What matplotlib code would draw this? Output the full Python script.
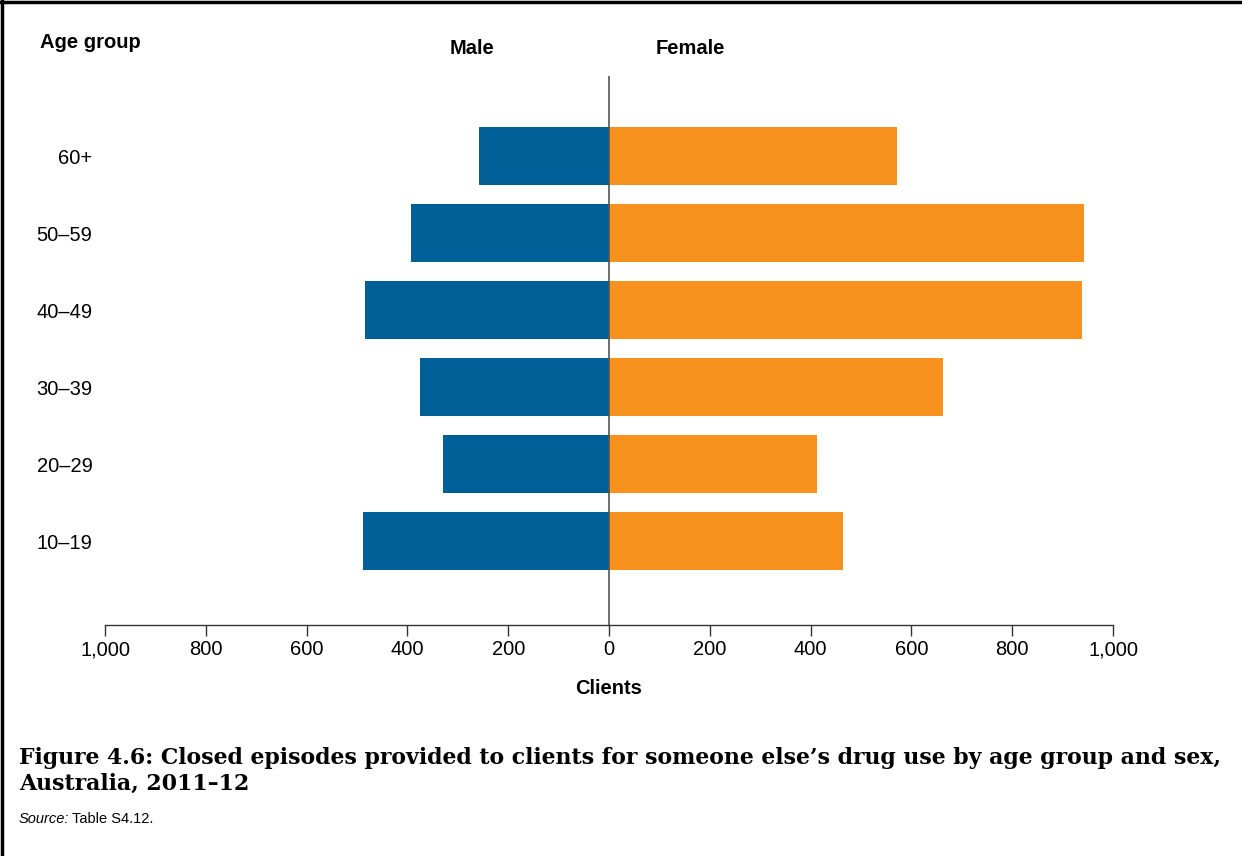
import numpy as np
import matplotlib.pyplot as plt
from matplotlib.lines import Line2D
from matplotlib.ticker import FuncFormatter

plt.rcParams['font.family'] = ['Liberation Sans', 'DejaVu Sans']

age_groups = ["10–19", "20–29", "30–39", "40–49", "50–59", "60+"]
male = [488, 329, 375, 484, 393, 258]
female = [464, 413, 663, 938, 942, 571]

male_col = "#005f96"
female_col = "#f7921e"

W, H = 1242, 856
fig = plt.figure(figsize=(W / 100, H / 100), dpi=100)
ax = fig.add_axes([105 / W, 1 - 625 / H, (1113 - 105) / W, (625 - 76) / H])

y = np.arange(len(age_groups))
ax.barh(y, [-m for m in male], height=0.76, color=male_col)
ax.barh(y, female, height=0.76, color=female_col)
ax.axvline(0, color="#555555", lw=1.2)

ax.set_xlim(-1000, 1000)
ax.set_ylim(-1.09, 6.04)
ax.set_xticks(np.arange(-1000, 1001, 200))
ax.xaxis.set_major_formatter(FuncFormatter(lambda v, p: f"{abs(int(v)):,}"))
ax.tick_params(axis='x', labelsize=14.5, length=8, width=1, color="#333333", pad=3)
ax.set_yticks(y)
ax.set_yticklabels(age_groups)
ax.tick_params(axis='y', labelsize=14.5, length=0, pad=9)
for s in ["top", "right", "left"]:
    ax.spines[s].set_visible(False)
ax.spines["bottom"].set_color("#333333")
ax.spines["bottom"].set_linewidth(1)

ax.set_xlabel("Clients", fontsize=14.5, fontweight="bold", labelpad=14)

fig.text(40 / W, 1 - 42 / H, "Age group", fontsize=14.5, fontweight="bold", va="center")
fig.text(472 / W, 1 - 48 / H, "Male", fontsize=14.5, fontweight="bold", ha="center", va="center")
fig.text(690 / W, 1 - 48 / H, "Female", fontsize=14.5, fontweight="bold", ha="center", va="center")

title_font = dict(fontsize=15.8, fontweight="bold", family="DejaVu Serif", va="baseline")
fig.text(19 / W, 1 - 764 / H,
         "Figure 4.6: Closed episodes provided to clients for someone else\u2019s drug use by age group and sex,",
         **title_font)
fig.text(19 / W, 1 - 790 / H, "Australia, 2011\u201312", **title_font)
fig.text(19 / W, 1 - 823 / H, "Source:", fontsize=10.5, style="italic", va="baseline")
fig.text(72 / W, 1 - 823 / H, "Table S4.12.", fontsize=10.5, va="baseline")

# frame lines on top and left edge
fig.add_artist(Line2D([0, 1], [1 - 1.5 / H, 1 - 1.5 / H], transform=fig.transFigure, color="black", lw=2.5))
fig.add_artist(Line2D([1.5 / W, 1.5 / W], [0, 1], transform=fig.transFigure, color="black", lw=2.5))

fig.savefig("out.png", dpi=100)
